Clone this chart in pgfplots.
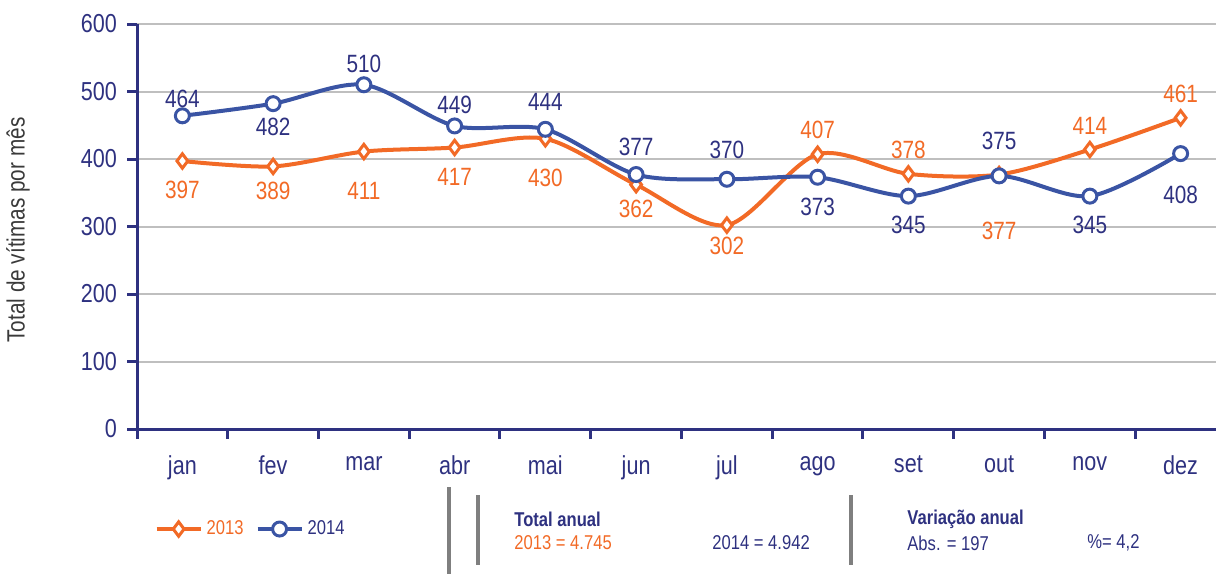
\documentclass[border=0pt]{standalone}
\usepackage{pgfplots}
\pgfplotsset{compat=1.18}
\usepackage{fontspec}
\setmainfont{Liberation Sans}[FakeStretch=0.83]
\definecolor{c13}{HTML}{F26A26}
\definecolor{c14}{HTML}{3A54A4}
\definecolor{navy}{HTML}{2E3180}
\definecolor{gridc}{HTML}{BFBFBF}
\definecolor{barc}{HTML}{7F7F7F}
\definecolor{ylab}{HTML}{3A3A3A}
\pgfplotsset{/pgf/number format/assume math mode=true}

\begin{document}
\begin{tikzpicture}
\useasboundingbox (0,0) rectangle (608pt,287pt);
\begin{axis}[
  at={(68.5pt,72.5pt)}, anchor=south west,
  scale only axis, width=539.5pt, height=202.5pt,
  xmin=-0.5, xmax=11.39, ymin=0, ymax=600,
  axis x line*=bottom, axis y line*=left,
  axis line style={navy, line width=1.5pt, -},
  xtick={0,...,11},
  xticklabels={jan,fev,mar,abr,mai,jun,jul,ago,set,out,nov,dez},
  major x tick style={draw=none},
  minor xtick={-0.5,0.5,...,10.5},
  tick style={navy, line width=1.5pt},
  tick align=outside, major tick length=5pt, minor tick length=5pt,
  ytick={0,100,...,600},
  ymajorgrids, grid style={gridc, line width=1pt},
  ticklabel style={navy, font=\fontsize{13}{15}\selectfont},
  xticklabel style={yshift=-5pt},
  yticklabel style={xshift=-1.5pt},
  legend style={at={(axis description cs:0.016,-0.247)}, anchor=west, draw=none, fill=none,
    font=\fontsize{10}{12}\selectfont, legend columns=2, inner sep=0pt,
    /tikz/every even column/.append style={column sep=4pt}},
  legend cell align=left,
  legend image code/.code={\draw[mark repeat=2,mark phase=2,#1] plot coordinates {(0pt,0pt) (11pt,0pt) (22pt,0pt)};},
  lbl/.style={draw=none, mark=none, forget plot, nodes near coords,
    every node near coord/.append style={inner sep=0pt, font=\fontsize{12.5}{14}\selectfont}},
  up/.style={every node near coord/.append style={anchor=south, yshift=#1}},
  dn/.style={every node near coord/.append style={anchor=north, yshift=-#1}},
  o/.style={every node near coord/.append style={text=c13}},
  b/.style={every node near coord/.append style={text=navy}},
]
\addplot[c13, line width=2pt, smooth, mark=diamond*, mark size=3.6pt,
  mark options={fill=white, draw=c13, line width=1.5pt}]
  coordinates {(0,397) (1,389) (2,411) (3,417) (4,430) (5,362) (6,302) (7,407) (8,378) (9,377) (10,414) (11,461)};
\addlegendentry{\textcolor{c13}{2013}}
\addplot[c14, line width=2pt, smooth, mark=*, mark size=3.5pt,
  mark options={fill=white, draw=c14, line width=1.5pt}]
  coordinates {(0,464) (1,482) (2,510) (3,449) (4,444) (5,377) (6,370) (7,373) (8,345) (9,375) (10,345) (11,408)};
\addlegendentry{\textcolor{navy}{2014}}
% value labels 2013
\addplot[lbl, o, dn=10pt] coordinates {(0,397) (3,417)};
\addplot[lbl, o, dn=15pt] coordinates {(2,411) (4,430)};
\addplot[lbl, o, dn=7.5pt] coordinates {(1,389) (5,362)};
\addplot[lbl, o, dn=5.5pt] coordinates {(6,302)};
\addplot[lbl, o, dn=23.5pt] coordinates {(9,377)};
\addplot[lbl, o, up=7.5pt] coordinates {(7,407) (8,378) (10,414) (11,461)};
% value labels 2014
\addplot[lbl, b, up=4pt] coordinates {(0,464)};
\addplot[lbl, b, up=6pt] coordinates {(2,510) (3,449)};
\addplot[lbl, b, up=9pt] coordinates {(4,444) (5,377)};
\addplot[lbl, b, up=10pt] coordinates {(6,370)};
\addplot[lbl, b, up=13pt] coordinates {(9,375)};
\addplot[lbl, b, dn=7pt] coordinates {(1,482)};
\addplot[lbl, b, dn=10pt] coordinates {(7,373) (8,345) (10,345)};
\addplot[lbl, b, dn=16pt] coordinates {(11,408)};
\end{axis}
\begin{scope}[x=0.5pt, y=-0.5pt, yshift=287pt]
  \node[rotate=90, text=ylab, font=\fontsize{12.5}{14}\selectfont] at (18,230) {Total de vítimas por mês};
  \draw[barc, line width=2pt] (449,487) -- (449,574);
  \draw[barc, line width=2pt] (478,495) -- (478,565);
  \draw[barc, line width=2pt] (851,495) -- (851,565);
  \node[anchor=west, inner sep=0pt, text=navy, font=\bfseries\fontsize{10}{12}\selectfont] at (514,519) {Total anual};
  \node[anchor=west, inner sep=0pt, text=c13, font=\fontsize{10}{12}\selectfont] at (514,543) {2013 = 4.745};
  \node[anchor=west, inner sep=0pt, text=navy, font=\fontsize{10}{12}\selectfont] at (712,543) {2014 = 4.942};
  \node[anchor=west, inner sep=0pt, text=navy, font=\bfseries\fontsize{10}{12}\selectfont] at (907,519) {Variação anual};
  \node[anchor=west, inner sep=0pt, text=navy, font=\fontsize{10}{12}\selectfont] at (907,543) {Abs. = 197};
  \node[anchor=west, inner sep=0pt, text=navy, font=\fontsize{10}{12}\selectfont] at (1087,543) {\%= 4,2};
\end{scope}
\end{tikzpicture}
\end{document}
